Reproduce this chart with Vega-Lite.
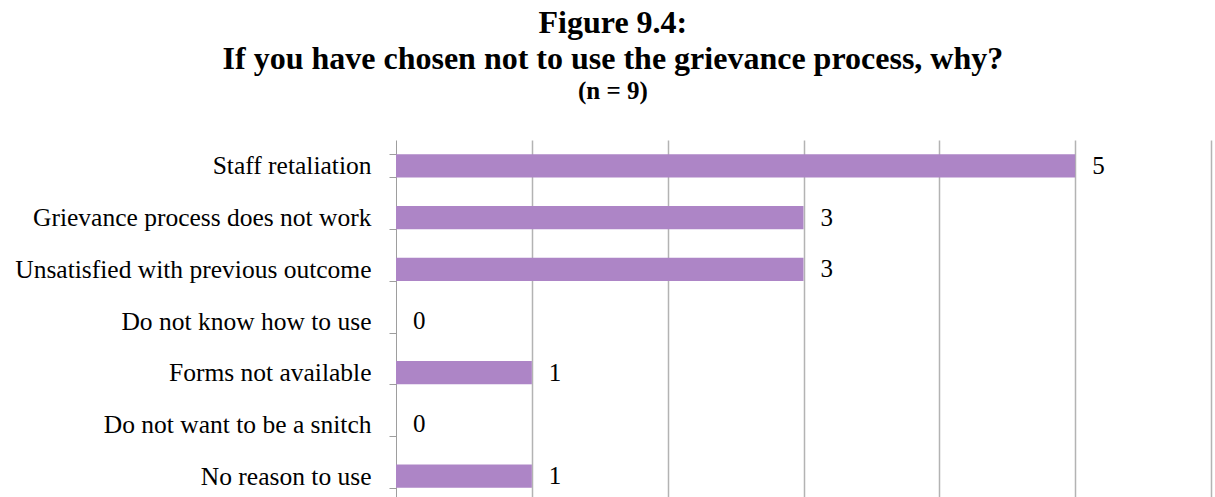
{
  "$schema": "https://vega.github.io/schema/vega-lite/v6.json",
  "autosize": {"type": "none"},
  "padding": {"left": 396, "top": 140, "right": 4, "bottom": 0},
  "width": 815,
  "height": 362,
  "background": "white",
  "config": {"view": {"stroke": null}},
  "title": {
    "text": ["Figure 9.4:", "If you have chosen not to use the grievance process, why?"],
    "subtitle": "(n = 9)",
    "font": "Liberation Serif",
    "fontSize": 32,
    "fontWeight": "bold",
    "lineHeight": 36,
    "color": "#000000",
    "subtitleFont": "Liberation Serif",
    "subtitleFontSize": 25,
    "subtitleFontWeight": "bold",
    "subtitleColor": "#000000",
    "subtitlePadding": 3,
    "anchor": "middle",
    "frame": "bounds",
    "offset": 23
  },
  "data": {
    "values": [
      {"reason": "Staff retaliation", "count": 5},
      {"reason": "Grievance process does not work", "count": 3},
      {"reason": "Unsatisfied with previous outcome", "count": 3},
      {"reason": "Do not know how to use", "count": 0},
      {"reason": "Forms not available", "count": 1},
      {"reason": "Do not want to be a snitch", "count": 0},
      {"reason": "No reason to use", "count": 1}
    ]
  },
  "encoding": {
    "y": {
      "field": "reason",
      "type": "nominal",
      "sort": null,
      "title": null,
      "scale": {"paddingInner": 0.55, "paddingOuter": 0.275},
      "axis": {
        "labelFont": "Liberation Serif",
        "labelFontSize": 25.5,
        "labelColor": "#000000",
        "labelPadding": 18,
        "labelLimit": 400,
        "domainColor": "#9e9e9e",
        "tickColor": "#9e9e9e",
        "tickSize": 7,
        "tickBand": "extent",
        "grid": false
      }
    },
    "x": {
      "field": "count",
      "type": "quantitative",
      "title": null,
      "scale": {"domain": [0, 6], "nice": false},
      "axis": {
        "values": [1, 2, 3, 4, 5, 6],
        "labels": false,
        "ticks": false,
        "domain": false,
        "grid": true,
        "gridColor": "#b3b3b3",
        "gridWidth": 1.5
      }
    }
  },
  "layer": [
    {"mark": {"type": "bar", "color": "#ad85c6"}},
    {
      "mark": {
        "type": "text",
        "align": "left",
        "dx": 17,
        "font": "Liberation Serif",
        "fontSize": 25,
        "color": "#000000"
      },
      "encoding": {"text": {"field": "count", "type": "quantitative"}}
    }
  ]
}
